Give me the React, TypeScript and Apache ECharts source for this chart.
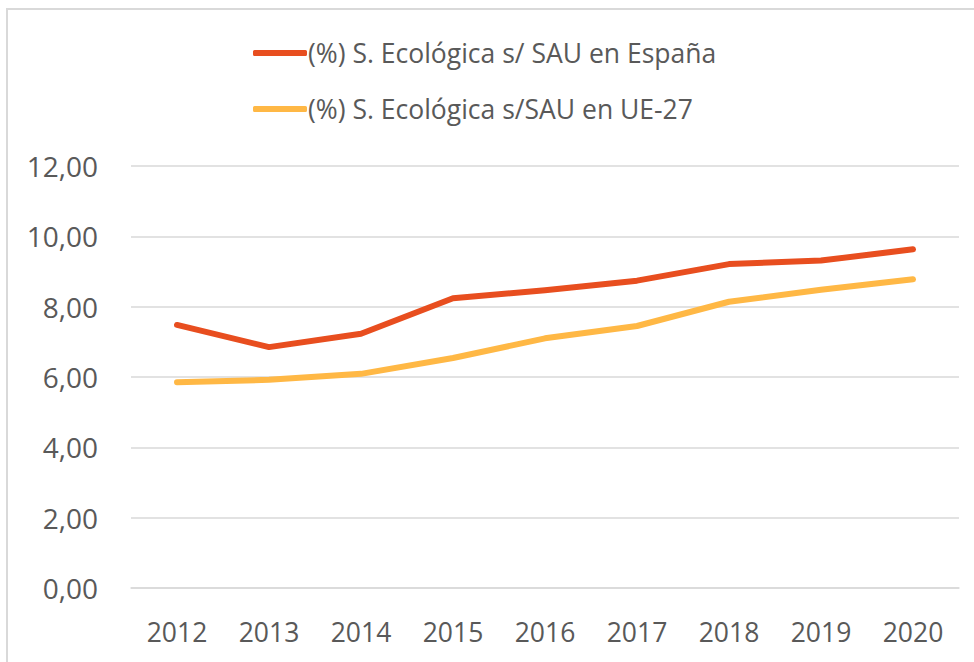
import React, { useEffect, useRef } from "react";
import * as echarts from "echarts";

const categories = ["2012", "2013", "2014", "2015", "2016", "2017", "2018", "2019", "2020"];
const spainValues = [7.48, 6.85, 7.23, 8.24, 8.47, 8.74, 9.21, 9.31, 9.63];
const euValues = [5.85, 5.92, 6.09, 6.54, 7.1, 7.45, 8.14, 8.48, 8.78];
const spainName = "(%) S. Ecológica s/ SAU en España";
const euName = "(%) S. Ecológica s/SAU en UE-27";
const yTicks = { min: 0, max: 12, interval: 2 };

const FONT = "'Open Sans', 'Noto Sans', sans-serif";
const TEXT = "#595959";
const RED = "#E84E1F";
const YELLOW = "#FFB845";

export default function App() {
  const ref = useRef<HTMLDivElement>(null);
  useEffect(() => {
    if (!ref.current) return;
    const chart = echarts.init(ref.current, undefined, { renderer: "svg" });
    const legendBase = {
      orient: "vertical",
      left: 248,
      itemWidth: 54,
      itemHeight: 6,
      icon: "roundRect",
      textStyle: { color: TEXT, fontFamily: FONT, fontSize: 26.5, lineHeight: 32, padding: [0, 0, 0, -4] },
      selectedMode: false,
    };
    chart.setOption({
      animation: false,
      backgroundColor: "#fff",
      graphic: [
        {
          type: "rect",
          shape: { x: 7, y: 9, width: 1000, height: 700 },
          style: { fill: "none", stroke: "#D9D9D9", lineWidth: 2 },
          silent: true,
        },
      ],
      legend: [
        { ...legendBase, top: 32, data: [spainName] },
        { ...legendBase, top: 88, data: [euName] },
      ],
      grid: { left: 131, right: 15, top: 166, bottom: 74, containLabel: false },
      xAxis: {
        type: "category",
        data: categories,
        boundaryGap: true,
        axisLine: { show: true, lineStyle: { color: "#D9D9D9", width: 1.5 } },
        axisTick: { show: false },
        axisLabel: { color: TEXT, fontFamily: FONT, fontSize: 26.5, margin: 30 },
      },
      yAxis: {
        type: "value",
        min: yTicks.min,
        max: yTicks.max,
        interval: yTicks.interval,
        axisLine: { show: false },
        axisTick: { show: false },
        splitLine: { lineStyle: { color: "#D9D9D9", width: 1.5 } },
        axisLabel: {
          color: TEXT,
          fontFamily: FONT,
          fontSize: 28,
          margin: 33,
          formatter: (v: number) => v.toFixed(2).replace(".", ","),
        },
      },
      series: [
        {
          name: spainName,
          type: "line",
          data: spainValues,
          symbol: "none",
          color: RED,
          lineStyle: { color: RED, width: 6, cap: "round", join: "round" },
          itemStyle: { color: RED },
        },
        {
          name: euName,
          type: "line",
          data: euValues,
          symbol: "none",
          color: YELLOW,
          lineStyle: { color: YELLOW, width: 6, cap: "round", join: "round" },
          itemStyle: { color: YELLOW },
        },
      ],
    });
    return () => chart.dispose();
  }, []);
  return (
    <div
      ref={ref}
      style={{ position: "absolute", left: 0, top: 0, width: 974, height: 662 }}
    />
  );
}
